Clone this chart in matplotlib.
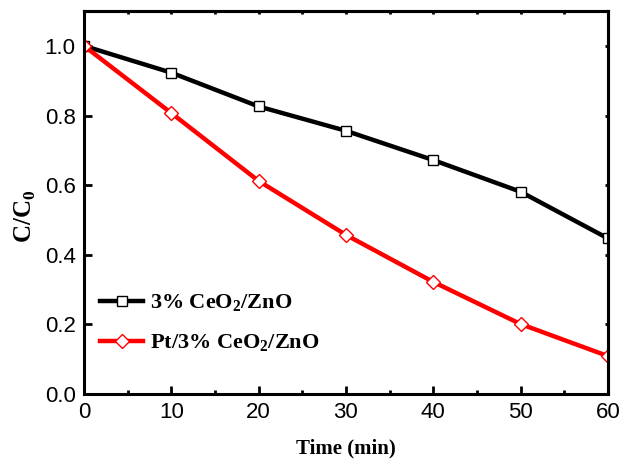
import matplotlib
matplotlib.use("Agg")
import matplotlib.pyplot as plt
from matplotlib.ticker import MultipleLocator, FormatStrFormatter

plt.rcParams['font.family'] = ['Liberation Sans', 'DejaVu Sans']
plt.rcParams['mathtext.fontset'] = 'custom'
plt.rcParams['mathtext.rm'] = 'Liberation Serif:bold'
plt.rcParams['mathtext.bf'] = 'Liberation Serif:bold'

time_min = [0, 10, 20, 30, 40, 50, 60]
ceo2_zno = [1.0, 0.923, 0.826, 0.756, 0.672, 0.581, 0.447]
pt_ceo2_zno = [1.0, 0.807, 0.612, 0.457, 0.322, 0.201, 0.109]
labels = ['3% CeO$_2$/ZnO', 'Pt/3% CeO$_2$/ZnO']

fig = plt.figure(figsize=(6.2, 4.61), dpi=100)
ax = fig.add_axes([0.1355, 0.1453, 0.845, 0.8307])

ax.plot(time_min, ceo2_zno, color='black', lw=3.2, marker='s', ms=6.5,
        mfc='white', mec='black', mew=1.0, label=labels[0], zorder=3)
ax.plot(time_min, pt_ceo2_zno, color='#ff0000', lw=3.2, marker='D', ms=7,
        mfc='white', mec='#ff0000', mew=1.0, label=labels[1], zorder=3)

ax.set_xlim(0, 60)
ax.set_ylim(0, 1.1)
ax.xaxis.set_major_locator(MultipleLocator(10))
ax.xaxis.set_minor_locator(MultipleLocator(5))
ax.yaxis.set_major_locator(MultipleLocator(0.2))
ax.yaxis.set_major_formatter(FormatStrFormatter('%.1f'))

for s in ax.spines.values():
    s.set_linewidth(2.2)
    s.set_zorder(4)

ax.tick_params(axis='both', which='major', direction='in', length=6, width=2,
               labelsize=16, pad=6)
ax.tick_params(axis='x', which='minor', direction='in', length=3, width=2)
# short ticks mirrored on the top and right spines
ax2 = ax.secondary_xaxis('top')
ax2.xaxis.set_major_locator(MultipleLocator(10))
ax2.xaxis.set_minor_locator(MultipleLocator(5))
ax2.tick_params(which='both', direction='in', length=2.5, width=2, labeltop=False)
ax3 = ax.secondary_yaxis('right')
ax3.yaxis.set_major_locator(MultipleLocator(0.2))
ax3.tick_params(which='both', direction='in', length=2, width=2, labelright=False)
ax2.spines['top'].set_linewidth(2.2)
ax3.spines['right'].set_linewidth(2.2)

ax.set_xlabel('Time (min)', family='Liberation Serif', fontweight='bold',
              fontsize=15, labelpad=11)
ax.set_ylabel('C/C$_0$', family='Liberation Serif', fontweight='bold',
              fontsize=18)
ax.yaxis.set_label_coords(-0.088, 0.465)

leg = ax.legend(loc='lower left', bbox_to_anchor=(16 / 524, 40 / 383),
                frameon=False, borderaxespad=0, borderpad=0,
                handlelength=1.95, handletextpad=0.3, labelspacing=0.82,
                prop={'family': 'Liberation Serif', 'weight': 'bold', 'size': 16})

fig.savefig('out.png', dpi=100)
